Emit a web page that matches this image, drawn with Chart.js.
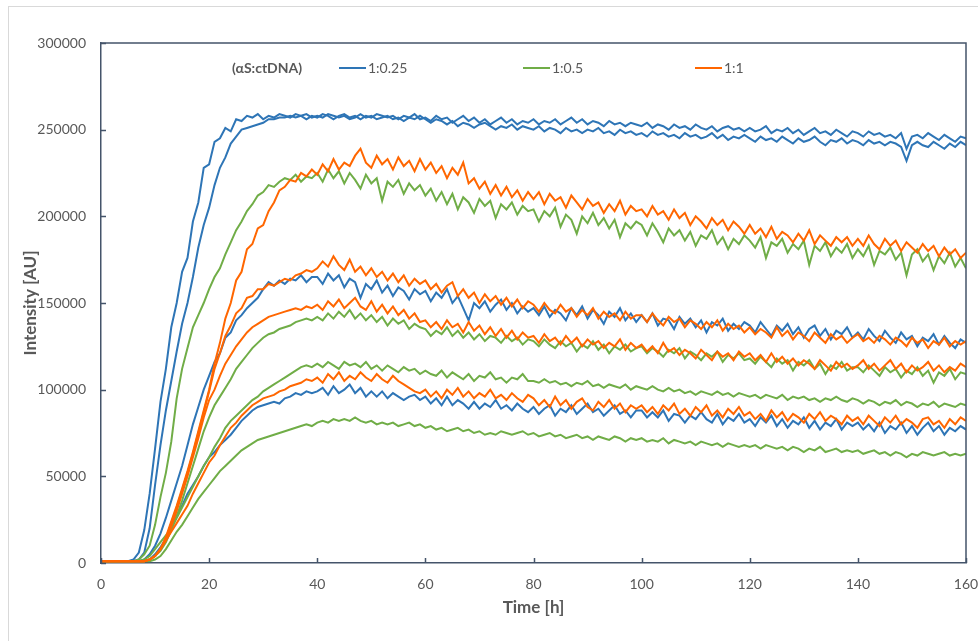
<!DOCTYPE html>
<html>
<head>
<meta charset="utf-8">
<script src="https://cdn.jsdelivr.net/npm/chart.js@4.4.0/dist/chart.umd.min.js"></script>
<style>
  html, body { margin: 0; padding: 0; background: #ffffff; }
  canvas { display: block; }
</style>
</head>
<body>
<canvas id="myChart" width="978" height="641"></canvas>
<script>
// 時間軸 (h) 1時間ごと
const hours = Array.from({ length: 161 }, (_, i) => i);
const xTicks = [0, 20, 40, 60, 80, 100, 120, 140, 160];
const yTicks = [0, 50000, 100000, 150000, 200000, 250000, 300000];
const ratioLabels = ['1:0.25', '1:0.5', '1:1'];
const legendTitle = '(αS:ctDNA)';

// 強度の値 (単位: 1000 AU)
// 1:0.25 (青)
const blue1 = [
  1,1,1,1,1,1,2,6,19,40,66,93,112,136,150,168,176,197,208,228,
  230,243,245,251,249,256,255,258,257,259,256,258,257,259,258,257,259,258,256,258,
  257,259,258,256,258,259,257,258,256,258,257,259,258,257,258,256,258,257,259,256,
  257,255,258,256,257,254,256,258,255,257,254,256,253,255,257,254,256,253,255,254,
  256,253,255,254,256,253,255,257,254,256,253,255,254,252,255,253,254,252,254,253,
  252,254,251,253,252,250,253,251,252,250,253,251,250,252,249,251,252,250,251,249,
  251,249,250,252,248,250,249,251,248,250,247,249,251,248,249,247,250,248,246,249,
  248,246,249,247,248,246,247,245,248,239,246,247,245,248,246,244,247,245,243,246,
  245
];
const blue2 = [
  1,1,1,1,1,1,1,2,6,20,45,68,88,105,122,138,150,165,182,195,
  205,218,228,234,242,246,250,251,252,253,254,256,256,257,257,258,257,258,259,257,
  258,257,259,258,257,258,256,257,259,257,258,256,257,258,256,257,255,257,256,258,
  256,254,256,255,253,255,252,254,253,251,253,254,252,250,252,251,253,250,252,251,
  250,252,249,251,250,248,251,249,250,248,250,249,251,248,249,247,250,248,249,247,
  248,246,249,247,248,246,247,245,248,246,247,245,246,248,245,247,244,246,245,247,
  245,243,246,244,245,243,246,244,242,245,243,244,246,243,241,244,243,245,242,244,
  243,241,244,242,243,241,243,242,240,232,241,243,241,240,243,241,239,242,240,243,
  241
];
const blue3 = [
  1,1,1,1,1,1,1,1,2,5,10,17,26,36,46,56,68,80,90,100,
  108,116,121,130,133,140,143,147,150,153,158,162,160,163,161,164,163,166,162,165,
  165,161,167,163,166,159,164,162,153,161,158,163,156,160,154,159,157,152,158,155,
  157,151,156,153,158,150,154,147,140,150,147,151,145,149,152,146,150,144,148,145,
  147,143,148,142,146,144,140,147,143,148,141,146,143,138,145,142,147,140,144,139,
  143,139,144,137,141,140,135,142,138,141,136,140,133,139,137,141,134,138,135,139,
  137,133,139,135,131,137,134,138,132,136,130,135,137,131,135,129,134,132,136,130,
  133,129,135,131,128,134,130,127,133,129,131,125,130,128,132,126,131,127,124,129,
  127
];
const blue4 = [
  1,1,1,1,1,1,1,1,1,2,5,9,14,20,27,33,40,45,50,56,
  61,64,68,71,74,78,82,85,88,90,91,92,93,92,95,96,98,97,99,98,
  99,101,97,102,98,100,103,98,101,96,99,96,99,95,98,96,94,96,97,94,
  96,92,95,91,96,91,94,92,89,93,89,92,90,94,89,91,88,92,89,87,
  90,86,89,91,85,89,87,91,86,89,92,87,89,85,88,91,86,88,84,88,
  88,84,87,84,88,82,86,85,81,85,83,87,83,81,86,80,84,82,86,81,
  83,79,84,81,85,79,83,78,82,80,84,78,82,77,81,79,83,77,81,79,
  81,77,80,76,81,75,79,77,81,75,79,74,78,81,76,79,74,78,76,79,
  77
];
// 1:0.5 (緑)
const green1 = [
  1,1,1,1,1,1,1,2,5,10,22,38,52,70,95,112,124,136,143,150,
  158,165,170,178,185,192,197,203,207,212,214,218,217,220,222,221,224,220,223,222,
  225,220,227,222,226,219,225,221,216,224,219,222,209,220,217,221,213,219,215,218,
  212,216,209,214,207,213,204,211,208,202,210,206,209,199,207,204,208,201,206,203,
  204,197,203,200,205,194,201,198,190,200,196,202,195,199,193,198,188,196,193,197,
  195,189,196,191,185,193,189,192,186,191,183,189,187,192,184,188,181,187,184,189,
  186,182,188,176,185,183,187,179,184,181,186,172,183,180,185,177,182,179,184,176,
  181,177,183,172,180,178,182,175,179,166,178,181,174,178,169,177,173,179,171,176,
  170
];
const green2 = [
  1,1,1,1,1,1,1,1,1,2,4,7,12,19,27,36,46,56,66,76,
  84,91,96,101,106,112,116,120,124,127,130,132,133,135,136,137,139,140,141,140,
  142,140,144,141,145,142,146,141,144,140,143,139,142,137,141,138,140,135,138,136,
  135,131,134,132,136,131,134,130,133,129,132,128,131,130,127,131,128,130,126,129,
  128,125,129,126,124,128,125,127,122,126,124,128,123,126,121,125,123,126,122,124,
  125,121,124,122,119,123,121,124,118,122,120,117,121,119,122,116,120,118,121,117,
  118,115,119,116,113,118,115,117,111,116,114,117,112,115,109,114,112,116,111,113,
  113,110,114,111,108,113,110,112,107,111,109,113,108,111,104,110,108,112,106,110,
  109
];
const green3 = [
  1,1,1,1,1,1,1,1,2,4,8,12,16,20,26,32,38,44,50,56,
  61,67,72,78,82,85,88,91,94,96,99,101,103,105,107,109,111,113,114,113,
  115,113,116,114,112,116,114,115,113,116,112,114,111,114,112,110,113,111,112,109,
  111,109,108,111,107,110,108,106,109,105,108,107,110,106,107,104,107,106,109,105,
  105,104,106,104,105,103,104,102,104,103,105,102,103,101,103,102,101,103,100,102,
  101,100,102,100,99,101,99,100,98,99,97,99,98,97,99,97,98,96,98,97,
  96,97,95,97,96,95,97,94,96,95,96,94,95,93,95,94,96,94,93,95,
  94,92,94,93,91,93,92,94,91,93,92,90,92,91,93,90,92,91,90,92,
  91
];
const green4 = [
  1,1,1,1,1,1,1,1,1,1,2,4,8,13,18,22,27,32,37,41,
  45,49,53,56,59,62,65,67,69,71,72,73,74,75,76,77,78,79,80,79,
  81,82,81,83,82,83,82,84,82,81,82,80,81,80,81,79,80,81,79,80,
  78,79,77,78,76,77,78,76,77,75,76,74,75,74,76,75,74,75,76,74,
  75,73,74,75,73,74,72,73,74,72,73,71,73,72,71,73,72,70,72,71,
  72,70,71,70,72,69,71,70,69,70,68,70,69,68,69,67,69,68,67,68,
  67,68,66,68,67,66,67,65,67,66,64,66,65,67,64,65,66,64,65,64,
  65,63,64,65,63,64,62,64,63,61,63,62,64,63,62,63,64,62,63,62,
  63
];
// 1:1 (オレンジ)
const orange1 = [
  1,1,1,1,1,1,1,1,1,2,4,8,15,24,33,43,53,64,76,88,
  100,115,127,141,150,163,168,181,184,193,195,203,208,215,217,221,220,225,223,227,
  224,230,226,233,227,231,229,235,239,231,228,235,230,233,227,234,229,232,226,233,
  227,231,225,229,222,228,224,231,219,222,216,220,213,218,212,217,211,215,209,214,
  210,214,207,213,209,211,205,212,208,204,210,206,208,202,207,203,209,201,206,203,
  204,200,206,201,203,198,204,199,202,195,200,197,193,199,195,198,192,197,194,190,
  195,190,193,188,194,187,191,189,185,190,186,192,184,189,186,183,188,185,188,183,
  187,183,189,184,181,187,183,186,180,185,182,179,184,180,183,177,182,178,181,176,
  179
];
const orange2 = [
  1,1,1,1,1,1,1,1,1,2,4,8,14,23,32,42,52,63,75,87,
  99,112,121,131,137,144,147,153,154,158,158,161,160,162,164,163,166,167,169,168,
  170,174,171,177,172,169,175,168,171,166,170,165,168,163,167,162,166,160,164,161,
  163,158,161,156,160,162,154,158,153,156,150,155,151,154,149,153,148,152,147,151,
  149,145,150,146,144,149,145,147,142,146,143,147,141,145,142,144,140,145,141,143,
  143,139,144,140,137,142,139,141,136,140,138,135,139,136,140,134,138,135,137,133,
  136,132,135,133,130,136,131,134,129,133,131,128,133,130,127,132,129,131,127,130,
  132,128,130,127,131,129,126,130,128,125,130,127,129,124,128,126,130,125,128,126,
  128
];
const orange3 = [
  1,1,1,1,1,1,1,1,1,2,4,8,13,21,30,40,50,61,72,84,
  94,100,108,115,120,125,129,133,136,138,140,142,143,144,145,146,147,146,148,147,
  149,146,151,148,152,147,150,153,148,146,151,145,149,144,148,143,146,141,144,139,
  140,136,139,135,140,136,138,133,139,134,137,132,136,131,135,130,134,129,133,130,
  131,127,132,128,130,126,131,127,130,125,129,126,128,124,127,125,129,123,127,124,
  126,122,125,121,127,122,124,120,123,121,118,123,120,117,122,119,121,117,122,119,
  121,117,120,116,121,116,119,115,118,114,117,115,112,117,114,111,116,113,115,112,
  114,117,112,115,111,114,117,112,115,110,114,111,113,116,111,114,110,113,111,115,
  113
];
const orange4 = [
  1,1,1,1,1,1,1,1,1,2,4,8,13,18,23,28,33,40,46,52,
  58,62,68,73,78,81,85,88,91,93,95,96,97,99,100,102,103,104,106,105,
  107,104,109,106,110,105,108,106,110,107,105,109,106,104,108,105,103,101,99,98,
  100,96,99,95,100,97,101,96,99,95,98,96,100,95,97,94,98,95,93,97,
  95,91,94,90,96,91,94,89,93,95,90,88,93,90,94,89,92,87,91,89,
  91,87,90,86,91,88,92,86,89,85,90,87,91,85,88,84,89,86,90,85,
  87,83,86,82,88,84,87,82,86,84,81,86,83,87,82,85,83,80,85,82,
  84,80,85,82,79,84,81,85,80,83,81,78,83,84,80,82,78,83,80,84,
  82
];

const colors = ['#2E75B6', '#70AD47', '#FF6600'];
const groups = [
  [blue1, blue2, blue3, blue4],
  [green1, green2, green3, green4],
  [orange1, orange2, orange3, orange4],
];
const unit = 1000; // 1000 AU

const axisColor = '#44546A';
const textColor = '#595959';
const fontName = 'Lato, "Open Sans", sans-serif';

// データセット作成
const datasets = [];
groups.forEach((group, g) => {
  group.forEach((values) => {
    datasets.push({
      label: ratioLabels[g],
      data: values.map((v, i) => ({ x: hours[i], y: v * unit })),
      borderColor: colors[g],
      borderWidth: 2,
      pointRadius: 0,
      tension: 0,
      fill: false,
      order: 3 - g, // オレンジを一番上に
    });
  });
});

// 外枠・プロット枠・内向きの目盛り
const framePlugin = {
  id: 'frame',
  beforeDraw(chart) {
    const ctx = chart.ctx;
    ctx.save();
    ctx.strokeStyle = '#d9d9d9';
    ctx.lineWidth = 1;
    ctx.strokeRect(8.5, 6.5, 1200, 1200);
    ctx.restore();
  },
  afterDatasetsDraw(chart) {
    const { ctx, chartArea: a, scales } = chart;
    ctx.save();
    ctx.strokeStyle = axisColor;
    ctx.lineWidth = 1.5;
    ctx.beginPath();
    ctx.moveTo(a.left, a.top);
    ctx.lineTo(a.right, a.top);
    ctx.lineTo(a.right, a.bottom);
    ctx.stroke();
    ctx.beginPath();
    scales.y.ticks.forEach((t) => {
      const y = Math.round(scales.y.getPixelForValue(t.value)) + 0.5;
      ctx.moveTo(a.left, y);
      ctx.lineTo(a.left + 5, y);
    });
    scales.x.ticks.forEach((t) => {
      const x = Math.round(scales.x.getPixelForValue(t.value)) + 0.5;
      ctx.moveTo(x, a.bottom);
      ctx.lineTo(x, a.bottom - 5);
    });
    ctx.stroke();
    ctx.restore();
  },
};

// 凡例 (グラフ内上部)
const legendPlugin = {
  id: 'innerLegend',
  afterDatasetsDraw(chart) {
    const ctx = chart.ctx;
    const y = 68;
    ctx.save();
    ctx.textBaseline = 'middle';
    ctx.fillStyle = textColor;
    ctx.font = 'bold 14px ' + fontName;
    ctx.fillText(legendTitle, 232, y);
    const items = [339, 523, 695];
    ctx.font = '14px ' + fontName;
    items.forEach((x, k) => {
      ctx.strokeStyle = colors[k];
      ctx.lineWidth = 2;
      ctx.beginPath();
      ctx.moveTo(x, y);
      ctx.lineTo(x + 27, y);
      ctx.stroke();
      ctx.fillStyle = textColor;
      ctx.fillText(ratioLabels[k], x + 29, y);
    });
    ctx.restore();
  },
};

const ctx = document.getElementById('myChart');
new Chart(ctx, {
  type: 'line',
  data: { datasets: datasets },
  options: {
    responsive: false,
    animation: false,
    devicePixelRatio: 1,
    layout: { padding: { top: 43, right: 12, left: 0, bottom: 0 } },
    plugins: {
      legend: { display: false },
      tooltip: { enabled: false },
    },
    scales: {
      x: {
        type: 'linear',
        min: 0,
        max: 160,
        afterBuildTicks: (scale) => { scale.ticks = xTicks.map((v) => ({ value: v })); },
        afterFit: (scale) => {
          scale.height = 78;
          scale.paddingLeft = 0;
          scale.paddingRight = 0;
        },
        grid: { display: false, drawTicks: false },
        border: { color: axisColor, width: 1.5 },
        ticks: {
          color: textColor,
          padding: 13,
          font: { family: fontName, size: 14 },
          callback: (v) => String(v),
        },
        title: {
          display: true,
          text: 'Time [h]',
          color: textColor,
          font: { family: fontName, size: 17, weight: 'bold' },
          padding: { bottom: 23 },
        },
      },
      y: {
        min: 0,
        max: 300000,
        afterBuildTicks: (scale) => { scale.ticks = yTicks.map((v) => ({ value: v })); },
        afterFit: (scale) => { scale.width = 101; },
        grid: { display: false, drawTicks: false },
        border: { color: axisColor, width: 1.5 },
        ticks: {
          color: textColor,
          padding: 15,
          font: { family: fontName, size: 14 },
          callback: (v) => String(v),
        },
        title: {
          display: true,
          text: 'Intensity [AU]',
          color: textColor,
          font: { family: fontName, size: 17, weight: 'bold' },
          padding: { top: 20 },
        },
      },
    },
  },
  plugins: [framePlugin, legendPlugin],
});
</script>
</body>
</html>
